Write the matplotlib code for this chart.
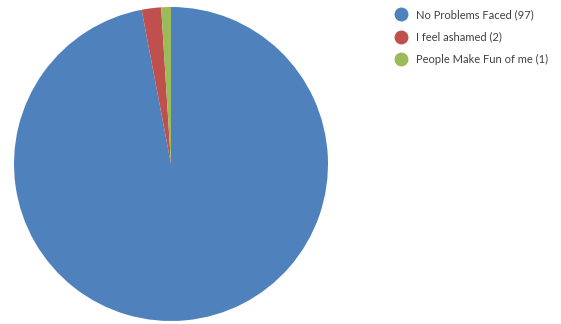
import matplotlib
matplotlib.use("Agg")
import matplotlib.pyplot as plt
from matplotlib.lines import Line2D

labels = ["No Problems Faced", "I feel ashamed", "People Make Fun of me"]
counts = [97, 2, 1]
colors = ["#4F81BD", "#C0504D", "#9BBB59"]

W, H = 561, 324
fig = plt.figure(figsize=(W / 100, H / 100), dpi=100)

# pie centre ~ (171,164) px, radius ~157 px
cx, cy, r = 171, 164, 157
ax = fig.add_axes([(cx - r) / W, (H - cy - r) / H, 2 * r / W, 2 * r / H])
ax.pie(counts, colors=colors, startangle=90, counterclock=False,
       wedgeprops=dict(linewidth=0))
ax.set_xlim(-1, 1)
ax.set_ylim(-1, 1)
ax.set_aspect("equal")
ax.axis("off")

handles = [Line2D([], [], marker="o", linestyle="none", markersize=9,
                  markerfacecolor=c, markeredgecolor=c) for c in colors]
leg_labels = ["{} ({})".format(l, n) for l, n in zip(labels, counts)]
leg = fig.legend(handles, leg_labels, loc="upper left",
                 bbox_to_anchor=(387 / W, 1 - 0 / H), frameon=False,
                 prop={"family": "Lato", "size": 8.0}, handlelength=1.0,
                 handletextpad=0.8, labelspacing=1.05, borderpad=0.3)
for t in leg.get_texts():
    t.set_color("#404040")

fig.savefig("out.png", dpi=100)
